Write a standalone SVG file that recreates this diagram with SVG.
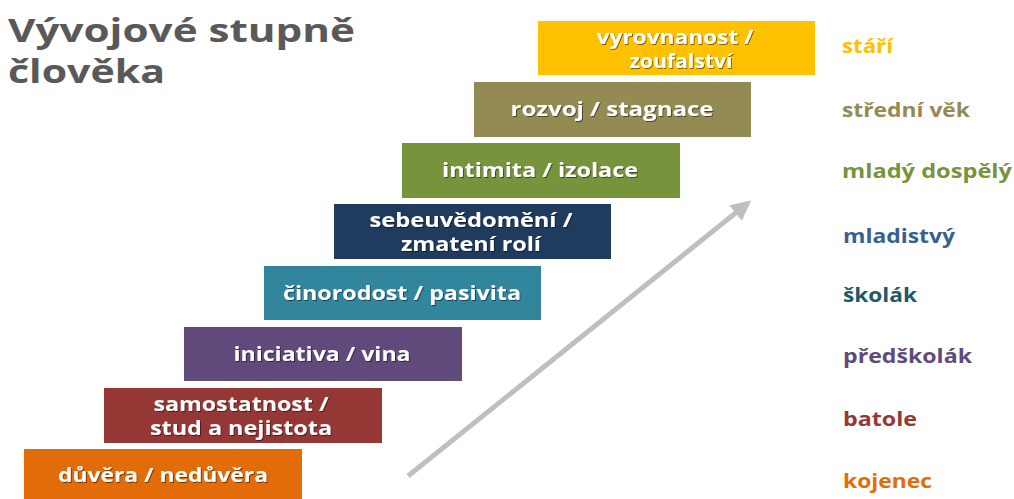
<svg xmlns="http://www.w3.org/2000/svg" width="1014" height="499" viewBox="0 0 1014 499">
<defs>
<style>
.bt{font-family:"Open Sans","Noto Sans",sans-serif;font-weight:bold;font-size:19px;fill:#fff;text-anchor:middle}
.lb{font-family:"Open Sans","Noto Sans",sans-serif;font-weight:bold;font-size:20px}
.tt{font-family:"Open Sans","Noto Sans",sans-serif;font-weight:bold;font-size:32px;fill:#595959}
</style>
<filter id="sh" x="-5%" y="-20%" width="110%" height="140%"><feDropShadow dx="1" dy="1" stdDeviation="0.6" flood-color="#000" flood-opacity="0.5"/></filter>
<marker id="ah" viewBox="0 0 10 10" refX="8" refY="5" markerWidth="4" markerHeight="4" orient="auto"><path d="M0,0L10,5L0,10z" fill="#bfbfbf"/></marker>
</defs>
<rect width="1014" height="499" fill="#fff"/>
<g id="title">
<text class="tt" x="8" y="42" textLength="347" lengthAdjust="spacingAndGlyphs">Vývojové stupně</text>
<text class="tt" x="8" y="83" textLength="157" lengthAdjust="spacingAndGlyphs">člověka</text>
</g>
<g id="connectors">
<line x1="408" y1="476" x2="748" y2="203" stroke="#bfbfbf" stroke-width="5" marker-end="url(#ah)"/>
</g>
<g id="n1"><rect x="24" y="449" width="278" height="55" fill="#e36c09"/><text class="bt" filter="url(#sh)" x="163" y="482" textLength="210" lengthAdjust="spacingAndGlyphs">důvěra / nedůvěra</text></g>
<g id="n2"><rect x="104" y="388" width="278" height="55" fill="#953735"/><text class="bt" filter="url(#sh)" x="241" y="411" textLength="175" lengthAdjust="spacingAndGlyphs">samostatnost /</text><text class="bt" filter="url(#sh)" x="241" y="435" textLength="182" lengthAdjust="spacingAndGlyphs">stud a nejistota</text></g>
<g id="n3"><rect x="184" y="327" width="278" height="54" fill="#604a7b"/><text class="bt" filter="url(#sh)" x="322" y="361" textLength="177" lengthAdjust="spacingAndGlyphs">iniciativa / vina</text></g>
<g id="n4"><rect x="264" y="266" width="277" height="54" fill="#31859c"/><text class="bt" filter="url(#sh)" x="402" y="300" textLength="238" lengthAdjust="spacingAndGlyphs">činorodost / pasivita</text></g>
<g id="n5"><rect x="334" y="204" width="277" height="55" fill="#1f3b5e"/><text class="bt" filter="url(#sh)" x="471" y="227" textLength="203" lengthAdjust="spacingAndGlyphs">sebeuvědomění /</text><text class="bt" filter="url(#sh)" x="471" y="251" textLength="140" lengthAdjust="spacingAndGlyphs">zmatení rolí</text></g>
<g id="n6"><rect x="402" y="143" width="278" height="55" fill="#77933c"/><text class="bt" filter="url(#sh)" x="540" y="177" textLength="196" lengthAdjust="spacingAndGlyphs">intimita / izolace</text></g>
<g id="n7"><rect x="474" y="82" width="277" height="55" fill="#948a54"/><text class="bt" filter="url(#sh)" x="612" y="116" textLength="203" lengthAdjust="spacingAndGlyphs">rozvoj / stagnace</text></g>
<g id="n8"><rect x="538" y="21" width="277" height="54" fill="#ffc000"/><text class="bt" filter="url(#sh)" x="675" y="44" textLength="157" lengthAdjust="spacingAndGlyphs">vyrovnanost /</text><text class="bt" filter="url(#sh)" x="681" y="68" textLength="103" lengthAdjust="spacingAndGlyphs">zoufalství</text></g>
<g id="labels">
<text class="lb" x="842" y="53" fill="#ffc000" textLength="51" lengthAdjust="spacingAndGlyphs">stáří</text>
<text class="lb" x="842" y="117" fill="#948a54" textLength="128" lengthAdjust="spacingAndGlyphs">střední věk</text>
<text class="lb" x="842" y="178" fill="#77933c" textLength="170" lengthAdjust="spacingAndGlyphs">mladý dospělý</text>
<text class="lb" x="843" y="243" fill="#366092" textLength="112" lengthAdjust="spacingAndGlyphs">mladistvý</text>
<text class="lb" x="843" y="302" fill="#215968" textLength="74" lengthAdjust="spacingAndGlyphs">školák</text>
<text class="lb" x="843" y="363" fill="#604a7b" textLength="129" lengthAdjust="spacingAndGlyphs">předškolák</text>
<text class="lb" x="843" y="426" fill="#953735" textLength="74" lengthAdjust="spacingAndGlyphs">batole</text>
<text class="lb" x="843" y="488" fill="#e36c09" textLength="89" lengthAdjust="spacingAndGlyphs">kojenec</text>
</g>
</svg>
